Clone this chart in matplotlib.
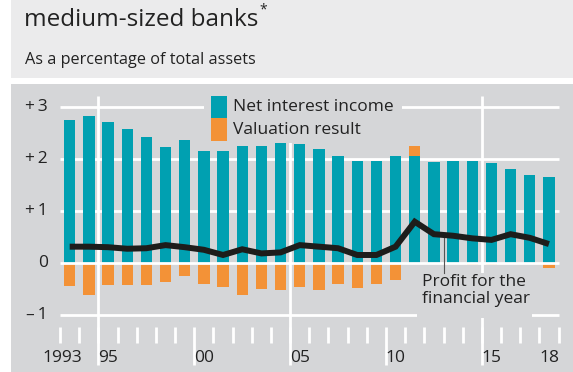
import numpy as np
import matplotlib.pyplot as plt
from matplotlib.patches import Rectangle

plt.rcParams['font.family'] = ['Open Sans', 'DejaVu Sans']

# Data (% of total assets)
years = np.arange(1993, 2019)
net_interest = [2.75, 2.83, 2.71, 2.58, 2.42, 2.24, 2.38, 2.16, 2.16, 2.26, 2.26, 2.31, 2.29,
                2.20, 2.06, 1.97, 1.96, 2.07, 2.06, 1.94, 1.97, 1.97, 1.92, 1.82, 1.69, 1.66]
valuation = [-0.44, -0.61, -0.42, -0.42, -0.42, -0.35, -0.24, -0.39, -0.45, -0.61, -0.49, -0.52, -0.45,
             -0.52, -0.39, -0.47, -0.39, -0.33, 0.19, 0.0, -0.01, -0.03, -0.03, -0.01, -0.01, -0.09]
profit = [0.32, 0.32, 0.31, 0.28, 0.29, 0.35, 0.31, 0.26, 0.16, 0.27, 0.19, 0.21, 0.35,
          0.32, 0.29, 0.16, 0.16, 0.32, 0.80, 0.56, 0.53, 0.48, 0.45, 0.56, 0.49, 0.37]

y_ticks = [3, 2, 1, 0, -1]
y_labels = ['+\u20093', '+\u20092', '+\u20091', '0', '–\u20091']
x_label_pos = [1992.6, 1995, 2000, 2005, 2010, 2015, 2018]
x_labels = ['1993', '95', '00', '05', '10', '15', '18']

teal = '#00a0b1'
orange = '#f39237'
panel = '#d5d6d8'
header = '#ebebec'
text_col = '#222222'
fs = 12.5

W, H = 573, 372
fig = plt.figure(figsize=(W / 100, H / 100), dpi=100)
fig.patch.set_facecolor('white')

# header box with title
fig.patches.append(Rectangle((11 / W, 1 - 78 / H), 1, 78 / H, transform=fig.transFigure,
                             facecolor=header, edgecolor='none', zorder=0))
title = fig.text(24 / W, 1 - 26 / H, 'medium-sized banks', fontsize=17.5, color=text_col,
                 ha='left', va='baseline')
fig.canvas.draw()
bb = title.get_window_extent()
fig.text(bb.x1 / W + 1 / W, 1 - 13 / H, '*', fontsize=10, color=text_col, ha='left', va='baseline')
fig.text(25 / W, 1 - 64 / H, 'As a percentage of total assets', fontsize=11.7, color=text_col,
         ha='left', va='baseline')

# chart panel
ax = fig.add_axes([11 / W, 0, 562 / W, 288 / H])
ax.set_xlim(1989.938, 2019.255)
ax.set_ylim(-2.090, 3.448)
ax.axis('off')
ax.add_patch(Rectangle((0, 0), 1, 1, transform=ax.transAxes, facecolor=panel, edgecolor='none', zorder=0))

grid_kw = dict(color='white', lw=2.0, solid_capstyle='butt')
for v in [3, 2, 1, -1]:
    ax.plot([1992.5, 2018.5], [v, v], zorder=1, **grid_kw)
for x in [1994.5, 2004.5, 2014.5]:
    ax.plot([x, x], [3.217, -1.95], zorder=1, **grid_kw)

# year ticks
for x in np.arange(1992.5, 2019.0, 1.0):
    bottom = -1.95 if x in (1999.5, 2009.5) else -1.54
    ax.plot([x, x], [-1.23, bottom], zorder=1, **grid_kw)

# boxes that keep the legend and the note clear of the grid
ax.add_patch(Rectangle((2000.0, 2.313), 10.34, 1.2, facecolor=panel, edgecolor='none', zorder=2))
ax.add_patch(Rectangle((2011.13, -1.06), 5.99, 0.87, facecolor=panel, edgecolor='none', zorder=2))

# bars
val = np.array(valuation)
bottoms = np.where(val > 0, net_interest, 0)
ax.bar(years, net_interest, width=0.59, color=teal, zorder=3)
ax.bar(years, val, bottom=bottoms, width=0.59, color=orange, zorder=3)

ax.plot([1992.5, 2018.5], [0, 0], zorder=4, **grid_kw)

# profit line
ax.plot(years, profit, color='#1d1d1b', lw=4.3, solid_capstyle='butt', solid_joinstyle='miter', zorder=5)

# annotation
ax.plot([2012.5, 2012.5], [0.48, -0.19], color='#555555', lw=0.8, zorder=4)
ax.text(2011.39, -0.21, 'Profit for the\nfinancial year', fontsize=fs, color=text_col,
        ha='left', va='top', linespacing=1.1, zorder=6)

# legend
lx = 2000.37
ax.add_patch(Rectangle((lx, 2.79), 0.83, 0.43, facecolor=teal, edgecolor='none', zorder=6))
ax.add_patch(Rectangle((lx, 2.35), 0.83, 0.44, facecolor=orange, edgecolor='none', zorder=6))
ax.text(2001.5, 3.0, 'Net interest income', fontsize=fs, color=text_col, ha='left', va='center', zorder=6)
ax.text(2001.5, 2.56, 'Valuation result', fontsize=fs, color=text_col, ha='left', va='center', zorder=6)

# axis labels
for v, lab in zip(y_ticks, y_labels):
    ax.text(1991.87, v, lab, fontsize=fs, color=text_col, ha='right', va='center')
for x, lab in zip(x_label_pos, x_labels):
    ax.text(x, -1.83, lab, fontsize=fs, color=text_col, ha='center', va='center')

fig.savefig('out.png', dpi=100, facecolor='white')
